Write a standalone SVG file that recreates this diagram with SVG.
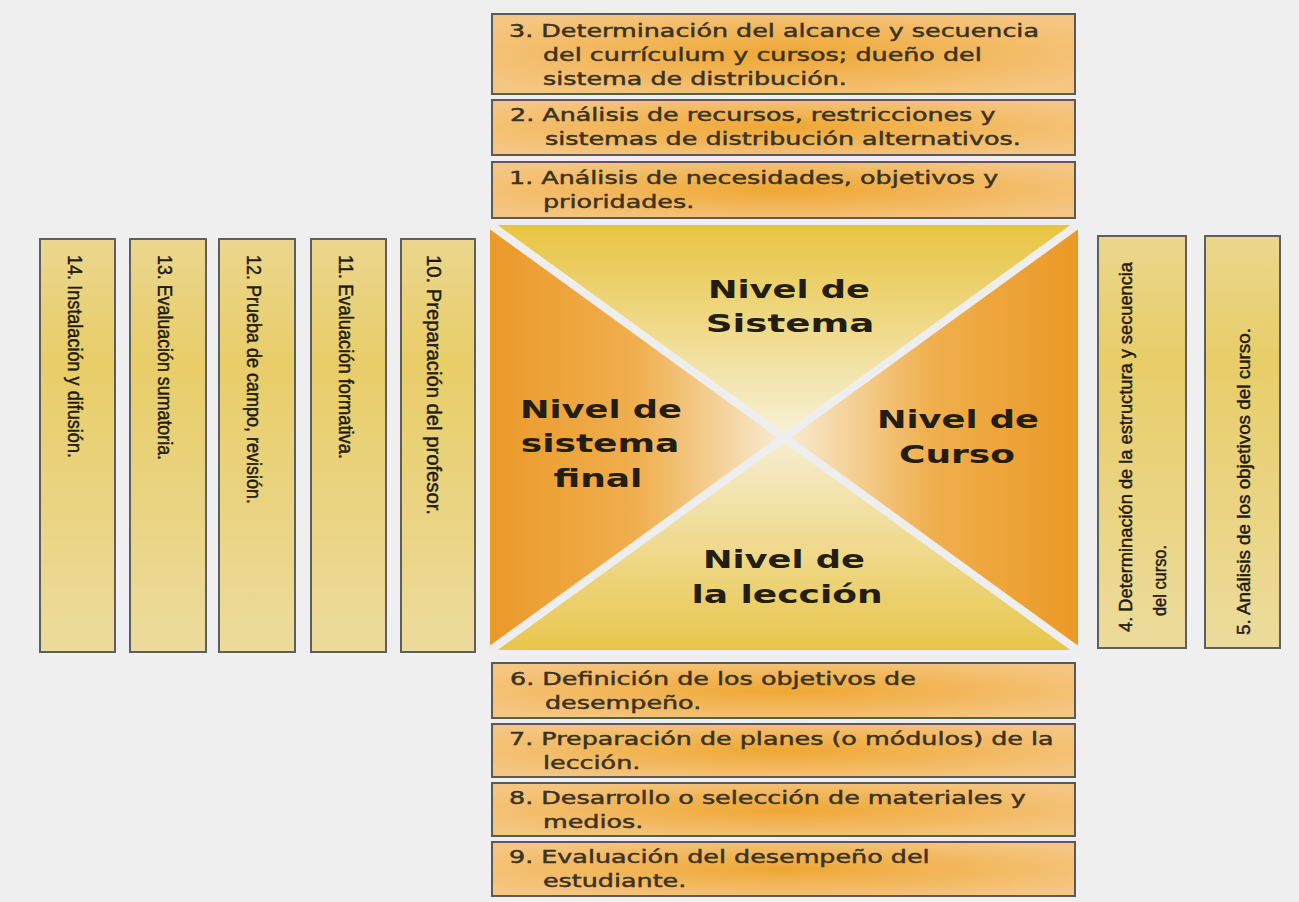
<svg xmlns="http://www.w3.org/2000/svg" width="1299" height="902" viewBox="0 0 1299 902">
<defs>
<radialGradient id="gOr" cx="0.5" cy="0.5" r="0.6">
<stop offset="0" stop-color="#efa733"/>
<stop offset="1" stop-color="#f5c682"/>
</radialGradient>
<linearGradient id="gYe" x1="0" y1="0" x2="0" y2="1">
<stop offset="0" stop-color="#ebd68e"/>
<stop offset="0.3" stop-color="#e8cd68"/>
<stop offset="1" stop-color="#ecdb9c"/>
</linearGradient>
<linearGradient id="gTop" gradientUnits="userSpaceOnUse" x1="0" y1="225" x2="0" y2="437">
<stop offset="0" stop-color="#e7c441"/>
<stop offset="1" stop-color="#f8f1d8"/>
</linearGradient>
<linearGradient id="gBot" gradientUnits="userSpaceOnUse" x1="0" y1="650" x2="0" y2="437">
<stop offset="0" stop-color="#e8c64c"/>
<stop offset="1" stop-color="#f7eed2"/>
</linearGradient>
<linearGradient id="gLeft" gradientUnits="userSpaceOnUse" x1="490" y1="0" x2="784" y2="0">
<stop offset="0" stop-color="#eb9929"/>
<stop offset="0.5" stop-color="#f0af4e"/>
<stop offset="1" stop-color="#f8ecd4"/>
</linearGradient>
<linearGradient id="gRight" gradientUnits="userSpaceOnUse" x1="1078" y1="0" x2="784" y2="0">
<stop offset="0" stop-color="#eb9925"/>
<stop offset="0.5" stop-color="#f0af4e"/>
<stop offset="1" stop-color="#f8ecd4"/>
</linearGradient>
</defs>
<style>
.hb{fill:url(#gOr);stroke:#5a5a5a;stroke-width:2}
.vb{fill:url(#gYe);stroke:#5e5e5e;stroke-width:2}
.ht{font-family:"DejaVu Sans","Liberation Sans",sans-serif;font-size:18px;fill:#3a3222;stroke:#3a3222;stroke-width:0.45}
.vt{font-family:"Liberation Sans",Arial,sans-serif;font-size:19.5px;fill:#1e1a12;stroke:#1e1a12;stroke-width:0.45}
.rt{font-family:"Liberation Sans",Arial,sans-serif;font-size:19px;fill:#1e1a12;stroke:#1e1a12;stroke-width:0.45}
.ct{font-family:"DejaVu Sans","Liberation Sans",sans-serif;font-weight:bold;font-size:24px;fill:#231d12;text-anchor:middle}
.sep{stroke:#eeeeee;stroke-width:8}
</style>
<rect x="0" y="0" width="1299" height="902" fill="#efefef"/>

<g id="center">
<polygon points="490,225 1078,225 784,437" fill="url(#gTop)"/>
<polygon points="490,650 1078,650 784,437" fill="url(#gBot)"/>
<polygon points="490,225 490,650 784,437" fill="url(#gLeft)"/>
<polygon points="1078,225 1078,650 784,437" fill="url(#gRight)"/>
<line class="sep" x1="488" y1="223" x2="1080" y2="652"/>
<line class="sep" x1="1080" y1="223" x2="488" y2="652"/>
<text class="ct" transform="translate(789,298) scale(1.47,1)">Nivel de</text>
<text class="ct" transform="translate(790,332) scale(1.55,1)">Sistema</text>
<text class="ct" transform="translate(601,418) scale(1.47,1)">Nivel de</text>
<text class="ct" transform="translate(600,452) scale(1.5,1)">sistema</text>
<text class="ct" transform="translate(598,487) scale(1.5,1)">final</text>
<text class="ct" transform="translate(958,428) scale(1.47,1)">Nivel de</text>
<text class="ct" transform="translate(957,463) scale(1.5,1)">Curso</text>
<text class="ct" transform="translate(784,568) scale(1.47,1)">Nivel de</text>
<text class="ct" transform="translate(787,603) scale(1.5,1)">la lección</text>
</g>

<g id="n3"><rect class="hb" x="492" y="14" width="583" height="80"/>
<text class="ht" transform="translate(509,37) scale(1.41,1)">3. Determinación del alcance y secuencia</text>
<text class="ht" transform="translate(543,61) scale(1.41,1)">del currículum y cursos; dueño del</text>
<text class="ht" transform="translate(543,85) scale(1.41,1)">sistema de distribución.</text></g>
<g id="n2"><rect class="hb" x="492" y="100" width="583" height="55"/>
<text class="ht" transform="translate(510,121) scale(1.41,1)">2. Análisis de recursos, restricciones y</text>
<text class="ht" transform="translate(545,145) scale(1.41,1)">sistemas de distribución alternativos.</text></g>
<g id="n1"><rect class="hb" x="492" y="162" width="583" height="56"/>
<text class="ht" transform="translate(509,184) scale(1.41,1)">1. Análisis de necesidades, objetivos y</text>
<text class="ht" transform="translate(543,208) scale(1.41,1)">prioridades.</text></g>
<g id="n6"><rect class="hb" x="492" y="663" width="583" height="55"/>
<text class="ht" transform="translate(510,685) scale(1.41,1)">6. Definición de los objetivos de</text>
<text class="ht" transform="translate(545,709) scale(1.41,1)">desempeño.</text></g>
<g id="n7"><rect class="hb" x="492" y="724" width="583" height="53"/>
<text class="ht" transform="translate(509,745) scale(1.41,1)">7. Preparación de planes (o módulos) de la</text>
<text class="ht" transform="translate(543,769) scale(1.41,1)">lección.</text></g>
<g id="n8"><rect class="hb" x="492" y="783" width="583" height="53"/>
<text class="ht" transform="translate(509,804) scale(1.41,1)">8. Desarrollo o selección de materiales y</text>
<text class="ht" transform="translate(543,828) scale(1.41,1)">medios.</text></g>
<g id="n9"><rect class="hb" x="492" y="842" width="583" height="54"/>
<text class="ht" transform="translate(509,863) scale(1.41,1)">9. Evaluación del desempeño del</text>
<text class="ht" transform="translate(543,887) scale(1.41,1)">estudiante.</text></g>

<g id="n14"><rect class="vb" x="40" y="239" width="75" height="413"/>
<text class="vt" transform="translate(68,255) rotate(90)" textLength="203" lengthAdjust="spacingAndGlyphs">14. Instalación y difusión.</text></g>
<g id="n13"><rect class="vb" x="130" y="239" width="76" height="413"/>
<text class="vt" transform="translate(158,255) rotate(90)" textLength="205" lengthAdjust="spacingAndGlyphs">13. Evaluación sumatoria.</text></g>
<g id="n12"><rect class="vb" x="219" y="239" width="76" height="413"/>
<text class="vt" transform="translate(247,255) rotate(90)" textLength="249" lengthAdjust="spacingAndGlyphs">12. Prueba de campo, revisión.</text></g>
<g id="n11"><rect class="vb" x="311" y="239" width="75" height="413"/>
<text class="vt" transform="translate(339,255) rotate(90)" textLength="204" lengthAdjust="spacingAndGlyphs">11. Evaluación formativa.</text></g>
<g id="n10"><rect class="vb" x="401" y="239" width="74" height="413"/>
<text class="vt" style="font-size:20.5px" transform="translate(427,255) rotate(90)" textLength="260" lengthAdjust="spacingAndGlyphs">10. Preparación del profesor.</text></g>

<g id="n4"><rect class="vb" x="1098" y="236" width="88" height="412"/>
<text class="rt" transform="translate(1132,632) rotate(-90)" textLength="370" lengthAdjust="spacingAndGlyphs">4. Determinación de la estructura y secuencia</text>
<text class="rt" transform="translate(1166,616) rotate(-90)" textLength="71" lengthAdjust="spacingAndGlyphs">del curso.</text></g>
<g id="n5"><rect class="vb" x="1205" y="236" width="75" height="412"/>
<text class="rt" transform="translate(1250,635) rotate(-90)" textLength="307" lengthAdjust="spacingAndGlyphs">5. Análisis de los objetivos del curso.</text></g>

<g id="connectors"></g>
</svg>
